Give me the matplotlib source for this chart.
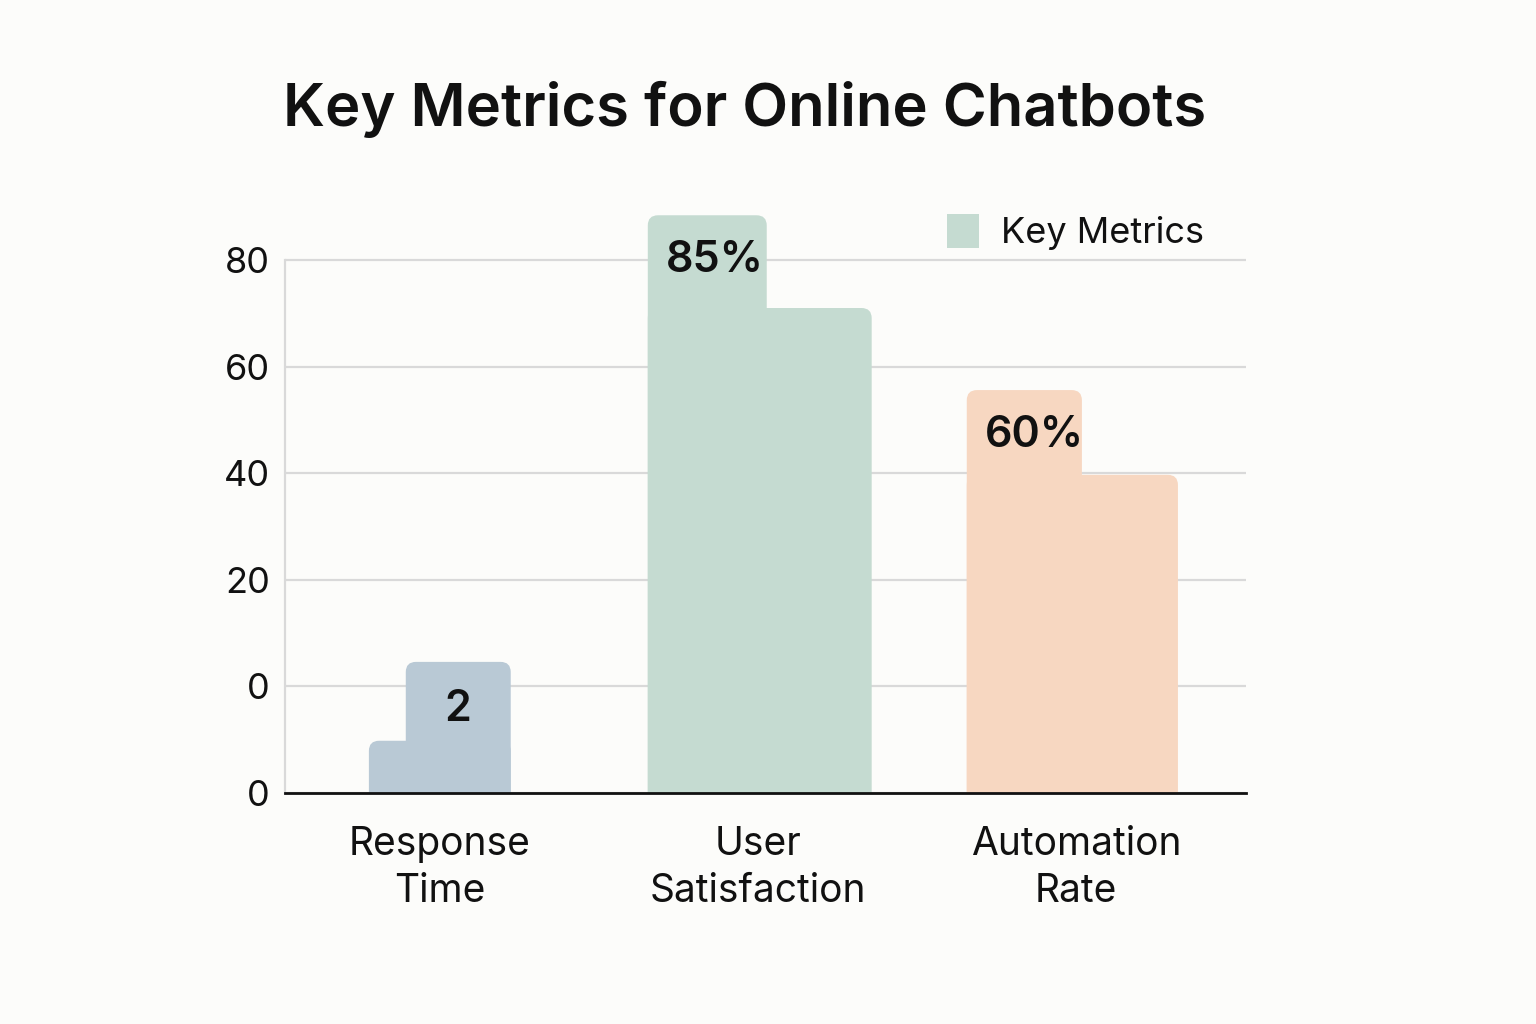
import matplotlib.pyplot as plt
from matplotlib.patches import FancyBboxPatch, Patch

plt.rcParams['font.family'] = ['Inter', 'DejaVu Sans']

# data (y axis in drawn units)
categories = ['Response\nTime', 'User\nSatisfaction', 'Automation\nRate']
positions = [0, 1, 2]
main_left = [-0.223, 0.654, 1.657]
main_width = [0.446, 0.704, 0.664]
main_height = [9.8, 91.0, 59.7]
tab_left = [-0.107, 0.654, 1.657]
tab_width = [0.330, 0.374, 0.362]
tab_height = [24.6, 108.4, 75.6]
value_labels = ['2', '85%', '60%']
label_x = [0.057, 0.865, 1.870]
label_y = [15.6, 100.0, 67.0]
colors = ['#b9c9d5', '#c5dbd1', '#f7d7c1']
yticks = [0, 20, 40, 60, 80, 100]
ytick_labels = ['0', '0', '20', '40', '60', '80']

bg = '#fcfcfa'
fig = plt.figure(figsize=(15.36, 10.24), dpi=100, facecolor=bg)
ax = fig.add_axes([0.1855, 0.2256, 0.6257, 0.5725])
ax.set_facecolor(bg)
ax.set_xlim(-0.487, 2.535)
ax.set_ylim(0, 110)

# scale of x units vs y units on screen, for rounded corners
aspect = 318 / 5.33
rs = 0.032

def rounded_bar(x, w, h, c, z):
    p = FancyBboxPatch((x, -4), w, h + 4,
                       boxstyle='round,pad=0,rounding_size=%f' % rs,
                       mutation_aspect=aspect, fc=c, ec='none', zorder=z)
    ax.add_patch(p)

for i in range(3):
    rounded_bar(tab_left[i], tab_width[i], tab_height[i], colors[i], 2)
    rounded_bar(main_left[i], main_width[i], main_height[i], colors[i], 3)
    ax.text(label_x[i], label_y[i], value_labels[i], ha='center', va='center',
            fontsize=31, fontweight='semibold', color='#111111', zorder=5)

ax.set_yticks(yticks)
ax.set_yticklabels(ytick_labels)
ax.set_xticks(positions)
ax.set_xticklabels(categories, linespacing=1.32)
ax.tick_params(axis='both', length=0, colors='#111111')
ax.tick_params(axis='y', pad=11, labelsize=26)
ax.tick_params(axis='x', pad=24, labelsize=28)

ax.grid(axis='y', color='#d9d9d9', linewidth=1.6, zorder=0)
ax.set_axisbelow(True)
for s in ['top', 'right']:
    ax.spines[s].set_visible(False)
ax.spines['left'].set_color('#d9d9d9')
ax.spines['left'].set_linewidth(1.6)
ax.spines['left'].set_bounds(0, 100)
ax.spines['bottom'].set_color('#111111')
ax.spines['bottom'].set_linewidth(2)
ax.spines['bottom'].set_zorder(6)

fig.text(0.485, 0.893, 'Key Metrics for Online Chatbots', ha='center', va='center',
         fontsize=43, fontweight='semibold', color='#111111')

fig.legend(handles=[Patch(facecolor=colors[1], edgecolor='none', label='Key Metrics')],
           loc='upper right', bbox_to_anchor=(0.805, 0.823), frameon=False,
           fontsize=26, handlelength=0.9, handleheight=1.1, handletextpad=0.6,
           labelcolor='#111111')

fig.savefig('out.png', dpi=100, facecolor=bg)
